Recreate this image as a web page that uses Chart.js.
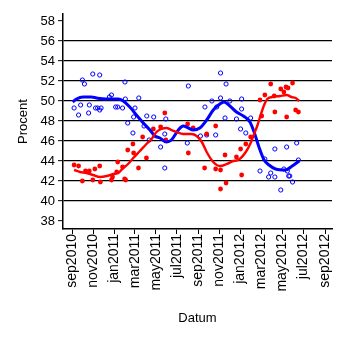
<!DOCTYPE html>
<html>
<head>
<meta charset="utf-8">
<script src="https://cdn.jsdelivr.net/npm/chart.js@4"></script>
<style>
  html, body { margin: 0; padding: 0; background: #fff; }
  #wrap { width: 345px; height: 345px; position: relative; }
</style>
</head>
<body>
<div id="wrap"><canvas id="c"></canvas></div>
<script>
// Opinion poll readings: blue bloc (open circles) and red bloc (filled dots)
const blueDates = ['2010-09-07','2010-09-20','2010-09-26','2010-10-01','2010-10-07','2010-10-19','2010-10-21','2010-10-31','2010-11-08','2010-11-14','2010-11-20','2010-11-20','2010-11-24','2010-12-18','2010-12-24','2011-01-05','2011-01-11','2011-01-25','2011-02-01','2011-02-02','2011-02-09','2011-02-24','2011-02-26','2011-03-02','2011-03-13','2011-03-28','2011-04-05','2011-04-12','2011-04-25','2011-05-15','2011-05-27','2011-05-27','2011-05-30','2011-07-31','2011-08-03','2011-09-07','2011-09-20','2011-09-25','2011-10-10','2011-10-21','2011-10-24','2011-11-04','2011-11-04','2011-11-17','2011-11-20','2011-12-01','2011-12-20','2012-01-01','2012-01-04','2012-01-04','2012-01-16','2012-01-30','2012-02-26','2012-03-11','2012-03-22','2012-03-28','2012-04-09','2012-04-09','2012-04-26','2012-05-05','2012-05-13','2012-05-15','2012-05-19','2012-05-22','2012-05-30','2012-06-11','2012-06-16'];
const blueValues = [49.3,48.6,49.6,52.1,51.7,48.8,49.6,52.7,49.3,49.3,52.6,49.1,49.3,50.4,50.6,49.4,49.4,49.3,51.9,50.2,47.8,46.8,48.4,49.3,50.3,47.5,48.5,46.1,48.4,45.4,46.7,43.3,48.2,45.8,51.5,46.5,49.4,46.6,50.0,46.6,49.4,52.8,50.3,48.3,51.7,50.0,48.2,47.2,50.2,49.2,46.8,48.3,43.0,44.2,42.4,42.8,42.4,45.2,41.1,43.2,45.4,43.0,42.5,42.5,41.9,45.8,44.1];

const redDates = ['2010-09-07','2010-09-20','2010-10-01','2010-10-10','2010-10-21','2010-10-31','2010-11-06','2010-11-20','2010-11-22','2010-12-24','2010-12-27','2011-01-08','2011-01-11','2011-01-25','2011-01-31','2011-02-03','2011-02-09','2011-02-24','2011-02-26','2011-03-12','2011-03-24','2011-04-04','2011-04-24','2011-05-15','2011-05-27','2011-05-30','2011-08-01','2011-08-03','2011-08-17','2011-09-19','2011-09-25','2011-10-21','2011-10-21','2011-11-04','2011-11-04','2011-11-17','2011-11-20','2011-12-20','2012-01-01','2012-01-04','2012-01-16','2012-01-30','2012-02-26','2012-03-02','2012-03-11','2012-03-28','2012-04-07','2012-04-09','2012-04-26','2012-05-05','2012-05-11','2012-05-13','2012-05-17','2012-05-30','2012-06-08','2012-06-16'];
const redValues = [43.6,43.5,42.0,43.0,43.0,42.1,43.2,43.5,41.9,42.1,42.4,42.9,43.9,43.4,42.2,42.1,45.1,45.7,44.8,43.3,46.4,44.3,47.2,47.4,48.8,46.1,47.7,44.8,47.3,43.3,46.7,47.5,43.2,43.1,41.2,44.6,41.8,44.4,45.2,42.6,45.7,46.4,50.1,48.5,50.6,51.7,50.5,48.9,51.2,50.9,51.4,48.4,51.3,51.8,49.1,48.9];

// Smoothed trend for each bloc
const blueTrendDates = ['2010-09-03','2010-09-14','2010-10-03','2010-10-27','2010-11-11','2010-12-08','2011-01-13','2011-01-27','2011-02-15','2011-03-06','2011-03-26','2011-04-14','2011-04-28','2011-05-13','2011-06-01','2011-06-15','2011-07-05','2011-07-19','2011-08-03','2011-08-17','2011-09-05','2011-09-25','2011-10-14','2011-11-02','2011-11-14','2011-12-01','2011-12-20','2012-01-09','2012-01-28','2012-02-08','2012-02-23','2012-03-09','2012-03-23','2012-04-11','2012-05-10','2012-05-29','2012-06-18'];
const blueTrendValues = [49.9,50.2,50.4,50.4,50.3,50.2,50.2,50.0,49.4,48.6,47.8,47.1,46.5,46.3,45.9,46.1,47.1,47.5,47.3,47.1,47.3,48.1,49.1,49.7,49.9,49.5,48.9,48.5,47.9,47.0,45.4,44.1,43.6,43.2,43.1,43.5,44.0];

const redTrendDates = ['2010-09-07','2010-09-24','2010-10-13','2010-11-01','2010-11-21','2010-12-10','2010-12-29','2011-01-13','2011-01-27','2011-02-10','2011-02-25','2011-03-16','2011-04-04','2011-04-19','2011-05-03','2011-05-17','2011-06-01','2011-06-15','2011-06-30','2011-07-19','2011-08-12','2011-08-27','2011-09-11','2011-09-25','2011-10-14','2011-11-02','2011-11-22','2011-12-11','2011-12-25','2012-01-16','2012-01-30','2012-02-09','2012-02-19','2012-02-28','2012-03-09','2012-03-18','2012-04-01','2012-04-24','2012-05-13','2012-05-27','2012-06-08','2012-06-18'];
const redTrendValues = [43.1,42.9,42.8,42.6,42.4,42.5,42.7,42.8,43.3,43.7,44.3,45.0,45.7,46.2,46.9,47.2,47.3,47.1,46.9,46.7,46.7,46.5,45.9,44.9,43.9,43.5,43.7,44.0,44.1,44.9,45.8,46.7,47.6,48.6,49.6,50.2,50.4,50.5,50.6,50.4,50.3,50.0];

// Axis ticks
const tickDates = ['2010-09-01','2010-11-01','2011-01-01','2011-03-01','2011-05-01','2011-07-01','2011-09-01','2011-11-01','2012-01-01','2012-03-01','2012-05-01','2012-07-01','2012-09-01'];
const tickLabels = ['sep2010','nov2010','jan2011','mar2011','may2011','jul2011','sep2011','nov2011','jan2012','mar2012','may2012','jul2012','sep2012'];
const yTicks = [38,40,42,44,46,48,50,52,54,56,58];

function dayNum(s) {
  const [y, m, d] = s.split('-').map(Number);
  return Date.UTC(y, m - 1, d) / 864e5;
}
function toXY(dates, vals) {
  return dates.map((d, i) => ({ x: dayNum(d), y: vals[i] }));
}

Chart.defaults.font.family = '"Liberation Sans", Arial, sans-serif';
Chart.defaults.color = '#000';

const RED = '#ff0000', BLUE = '#0000ff';
// horizontal rules only from 40 to 56; 38 and 58 keep just their tick mark
const yGridColors = yTicks.map(v => (v >= 40 && v <= 56) ? '#000000' : 'rgba(0,0,0,0)');

new Chart(document.getElementById('c'), {
  type: 'scatter',
  data: {
    datasets: [
      { type: 'line', data: toXY(redTrendDates, redTrendValues), borderColor: RED, borderWidth: 2.4,
        pointRadius: 0, cubicInterpolationMode: 'monotone', fill: false },
      { type: 'line', data: toXY(blueTrendDates, blueTrendValues), borderColor: BLUE, borderWidth: 3,
        pointRadius: 0, cubicInterpolationMode: 'monotone', fill: false },
      { data: toXY(redDates, redValues), backgroundColor: RED, borderColor: RED, borderWidth: 0,
        pointRadius: 2.4, pointStyle: 'circle' },
      { data: toXY(blueDates, blueValues), backgroundColor: 'rgba(0,0,0,0)', borderColor: BLUE, borderWidth: 1,
        pointRadius: 2.1, pointStyle: 'circle' }
    ]
  },
  options: {
    responsive: true,
    maintainAspectRatio: false,
    animation: false,
    events: [],
    layout: { padding: { left: 12, top: 14, right: 13, bottom: 15 } },
    plugins: { legend: { display: false }, tooltip: { enabled: false } },
    scales: {
      x: {
        type: 'linear',
        min: dayNum('2010-09-01') - 26,
        max: dayNum('2012-09-01') + 20,
        afterBuildTicks: (scale) => { scale.ticks = tickDates.map(d => ({ value: dayNum(d) })); },
        afterFit: (scale) => { scale.height = 101; },
        ticks: {
          autoSkip: false, minRotation: 90, maxRotation: 90, padding: 0,
          font: { size: 14 },
          callback: (v, i) => tickLabels[i]
        },
        grid: { drawOnChartArea: false, color: '#000', tickColor: '#000', tickLength: 5, tickWidth: 1 },
        border: { display: true, color: '#000', width: 1.5 },
        title: { display: true, text: 'Datum', font: { size: 13 } }
      },
      y: {
        type: 'linear',
        min: 37.2,
        max: 58.7,
        afterBuildTicks: (scale) => { scale.ticks = yTicks.map(v => ({ value: v })); },
        afterFit: (scale) => { scale.width = 51; },
        ticks: { font: { size: 13 }, padding: 3 },
        grid: {
          drawOnChartArea: true,
          color: yGridColors,
          lineWidth: 1.3,
          tickColor: '#000', tickLength: 5, tickWidth: 1
        },
        border: { display: true, color: '#000', width: 1.5 },
        title: { display: true, text: 'Procent', font: { size: 13 } }
      }
    }
  }
});
</script>
</body>
</html>
